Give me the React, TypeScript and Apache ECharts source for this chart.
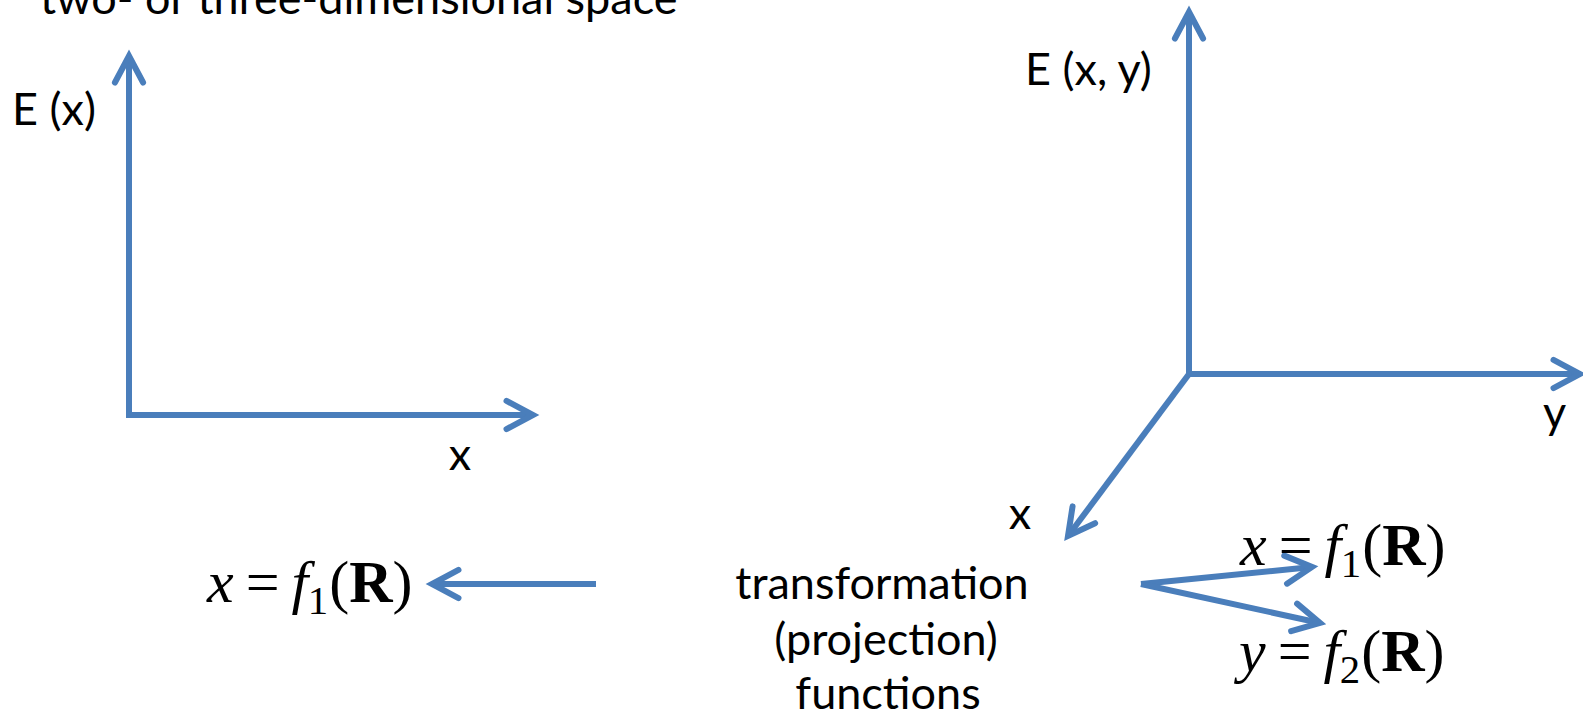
import React, { useEffect, useRef } from "react";
import * as echarts from "echarts";

const BLUE = "#4A7EBB";
const SANS = "Lato, 'Open Sans', sans-serif";
const SERIF = "'Liberation Serif', 'DejaVu Serif', serif";

// Arrow shafts: [startX, startY, tipX, tipY]
const arrowShafts: number[][] = [
  [129, 415, 129, 56],
  [126, 415, 533, 415],
  [1189, 374, 1189, 12],
  [1186, 374, 1580, 374],
  [1189, 374, 1068, 536],
  [596, 584, 432, 584],
  [1141, 584, 1312, 567],
  [1141, 584, 1320, 623],
];

// Plain labels: text, x, baseline, alignment
const labelTexts = [
  "two- or three-dimensional space",
  "E (x)",
  "x",
  "transformation",
  "(projection)",
  "functions",
  "E (x, y)",
  "y",
  "x",
];
const labelX = [40, 12, 460, 882, 886, 888, 1025, 1543, 1020];
const labelBaseline = [15, 126, 471, 600, 656, 710, 86, 429, 530];
const labelAlign = ["left", "left", "center", "center", "center", "center", "left", "left", "center"];

// Formulas: variable name, function index, x start, baseline
const formulaVars = ["x", "x", "y"];
const formulaIdx = ["1", "1", "2"];
const formulaX = [207, 1240, 1239];
const formulaBaseline = [602, 565, 671];

const SANS_SIZE = 45;
const SERIF_SIZE = 60;
const LINE_W = 6;
const HEAD_LEN = 30;
const HEAD_ANG = (28 * Math.PI) / 180;

function buildArrow(a: number[]) {
  const [x1, y1, x2, y2] = a;
  const ang = Math.atan2(y2 - y1, x2 - x1);
  const p1 = [x2 - HEAD_LEN * Math.cos(ang - HEAD_ANG), y2 - HEAD_LEN * Math.sin(ang - HEAD_ANG)];
  const p2 = [x2 - HEAD_LEN * Math.cos(ang + HEAD_ANG), y2 - HEAD_LEN * Math.sin(ang + HEAD_ANG)];
  return [
    {
      type: "line",
      shape: { x1, y1, x2, y2 },
      style: { stroke: BLUE, lineWidth: LINE_W, lineCap: "butt" },
    },
    {
      type: "polyline",
      shape: { points: [p1, [x2, y2], p2] },
      style: { stroke: BLUE, lineWidth: LINE_W, lineCap: "round", lineJoin: "miter", fill: null },
    },
  ];
}

function sansText(text: string, x: number, baseline: number, align: string) {
  return {
    type: "text",
    x,
    y: baseline - 0.39 * SANS_SIZE,
    style: {
      text,
      fill: "#000",
      font: `${SANS_SIZE}px ${SANS}`,
      align,
      verticalAlign: "middle",
    },
  };
}

function serifPiece(text: string, x: number, baseline: number, size: number, style: string, weight: string) {
  return {
    type: "text",
    x,
    y: baseline - 0.3375 * size,
    style: {
      text,
      fill: "#000",
      font: `${style} ${weight} ${size}px ${SERIF}`,
      align: "left",
      verticalAlign: "middle",
    },
  };
}

function buildFormula(v: string, idx: string, x0: number, base: number) {
  const F = SERIF_SIZE;
  const out: any[] = [];
  let x = x0;
  out.push(serifPiece(v, x, base, F, "italic", "normal"));
  x += 0.444 * F + 0.2 * F;
  out.push(serifPiece("=", x, base, F, "normal", "normal"));
  x += 0.564 * F + 0.2 * F;
  out.push(serifPiece("f", x, base, F, "italic", "normal"));
  x += 0.27 * F;
  out.push(serifPiece(idx, x, base + 0.2 * F, 0.68 * F, "normal", "normal"));
  x += 0.36 * F;
  out.push(serifPiece("(", x, base, F, "normal", "normal"));
  x += 0.333 * F;
  out.push(serifPiece("R", x, base, F, "normal", "bold"));
  x += 0.722 * F;
  out.push(serifPiece(")", x, base, F, "normal", "normal"));
  return out;
}

export default function App() {
  const ref = useRef<HTMLDivElement>(null);
  useEffect(() => {
    if (!ref.current) return;
    const chart = echarts.init(ref.current, undefined, { renderer: "svg" });
    const elements: any[] = [];
    arrowShafts.forEach((a) => elements.push(...buildArrow(a)));
    labelTexts.forEach((t, i) => elements.push(sansText(t, labelX[i], labelBaseline[i], labelAlign[i])));
    formulaVars.forEach((v, i) => elements.push(...buildFormula(v, formulaIdx[i], formulaX[i], formulaBaseline[i])));
    chart.setOption({
      animation: false,
      backgroundColor: "#ffffff",
      graphic: { elements },
    });
    return () => chart.dispose();
  }, []);
  return (
    <div
      ref={ref}
      style={{ position: "fixed", left: 0, top: 0, width: 1583, height: 713 }}
    />
  );
}
